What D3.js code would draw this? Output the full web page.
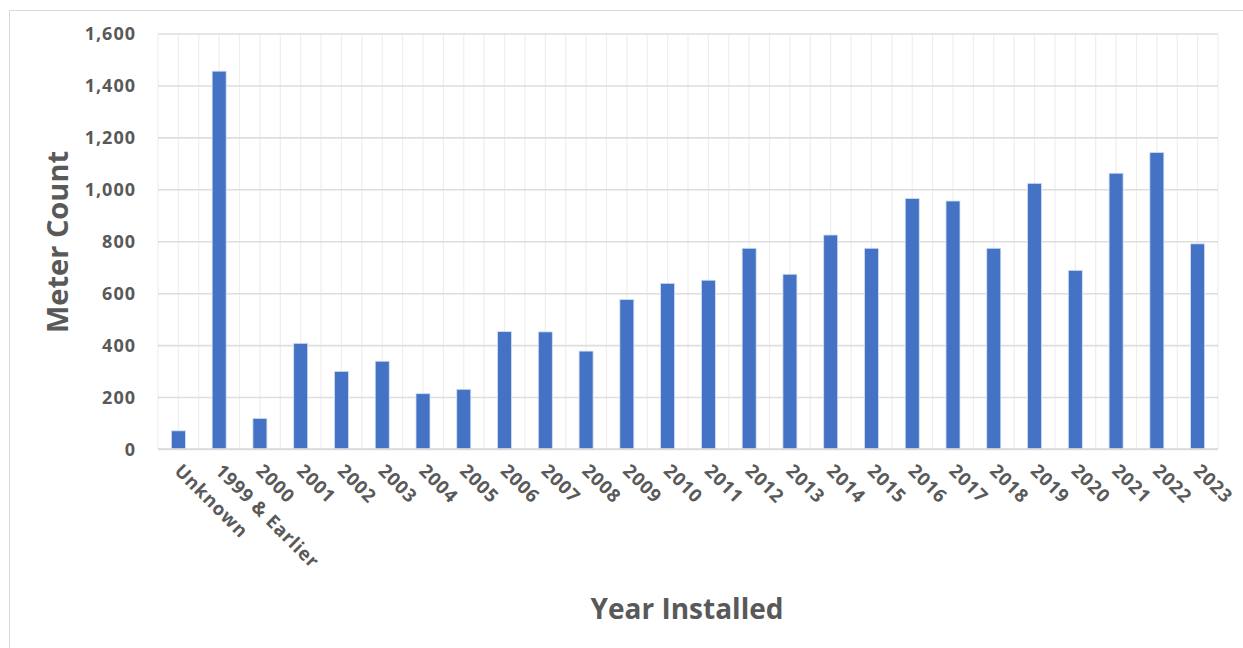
<!DOCTYPE html>
<html>
<head>
<meta charset="utf-8">
<script src="https://cdn.jsdelivr.net/npm/d3@7"></script>
<style>
  html, body { margin: 0; padding: 0; background: #fff; }
  svg { display: block; }
  text { font-family: "Open Sans", "Noto Sans", sans-serif; font-weight: 700; fill: #595959; }
</style>
</head>
<body>
<svg id="chart" width="1243" height="648"></svg>
<script>
// Meters by year of installation
const categories = ["Unknown", "1999 & Earlier", "2000", "2001", "2002", "2003", "2004", "2005",
  "2006", "2007", "2008", "2009", "2010", "2011", "2012", "2013", "2014", "2015", "2016",
  "2017", "2018", "2019", "2020", "2021", "2022", "2023"];
const meterCounts = [70, 1455, 118, 407, 299, 338, 213, 230, 452, 451, 377, 576, 638, 650,
  773, 673, 824, 773, 965, 955, 773, 1023, 688, 1062, 1142, 790];
const yTicks = [0, 200, 400, 600, 800, 1000, 1200, 1400, 1600];
const xTitle = "Year Installed";
const yTitle = "Meter Count";

const svg = d3.select("#chart");
const plot = { left: 158, right: 1218, top: 33.5, bottom: 449 };

// outer chart frame
svg.append("rect")
  .attr("x", 9.5).attr("y", 10.5)
  .attr("width", 1260).attr("height", 660)
  .attr("fill", "none").attr("stroke", "#d9d9d9").attr("stroke-width", 1);

const x = d3.scaleBand().domain(categories).range([plot.left, plot.right]).paddingInner(0).paddingOuter(0);
const y = d3.scaleLinear().domain([0, 1600]).range([plot.bottom, plot.top]);

const bw = x.bandwidth();

// vertical gridlines at category edges and centers
const vLines = [];
categories.forEach(c => {
  vLines.push(x(c));
  vLines.push(x(c) + bw / 2);
});
vLines.push(plot.right);
svg.append("g").selectAll("line").data(vLines).join("line")
  .attr("x1", d => d).attr("x2", d => d)
  .attr("y1", plot.top).attr("y2", plot.bottom)
  .attr("stroke", "#eeeeee").attr("stroke-width", 1.2);

// horizontal gridlines via y axis
const yAxis = d3.axisLeft(y).tickValues(yTicks).tickSize(-(plot.right - plot.left))
  .tickFormat(d3.format(","));
const gy = svg.append("g").attr("transform", `translate(${plot.left},0)`).call(yAxis);
gy.select(".domain").remove();
gy.selectAll(".tick line").attr("stroke", "#dedede").attr("stroke-width", 1.6);
gy.selectAll(".tick text")
  .attr("x", -22).attr("dy", "0.34em")
  .style("font-size", "18px").style("letter-spacing", "1px")
  .attr("fill", "#595959");

// bars
const barW = 14;
svg.append("g").selectAll("rect").data(categories).join("rect")
  .attr("x", d => x(d) + bw / 2 - barW / 2)
  .attr("width", barW)
  .attr("y", (d, i) => y(meterCounts[i]))
  .attr("height", (d, i) => y(0) - y(meterCounts[i]))
  .attr("fill", "#4472c4")
  .attr("stroke", "#d6e0f3").attr("stroke-width", 0.8);

// baseline
svg.append("line")
  .attr("x1", plot.left).attr("x2", plot.right)
  .attr("y1", y(0)).attr("y2", y(0))
  .attr("stroke", "#d9d9d9").attr("stroke-width", 1.6);

// x axis labels, rotated 45 degrees
const xAxis = d3.axisBottom(x).tickSize(0);
const gx = svg.append("g").attr("transform", `translate(0,${plot.bottom})`).call(xAxis);
gx.select(".domain").remove();
gx.selectAll(".tick text")
  .attr("text-anchor", "start")
  .attr("x", 0).attr("y", 0).attr("dy", 0)
  .attr("transform", "translate(-5,23) rotate(45)")
  .style("font-size", "18.5px").style("letter-spacing", "0.8px")
  .attr("fill", "#595959");

// axis titles
svg.append("text")
  .attr("x", 687).attr("y", 619)
  .attr("text-anchor", "middle")
  .style("font-size", "28px")
  .text(xTitle);

svg.append("text")
  .attr("transform", "translate(68,242) rotate(-90)")
  .attr("text-anchor", "middle")
  .style("font-size", "29px")
  .text(yTitle);
</script>
</body>
</html>
